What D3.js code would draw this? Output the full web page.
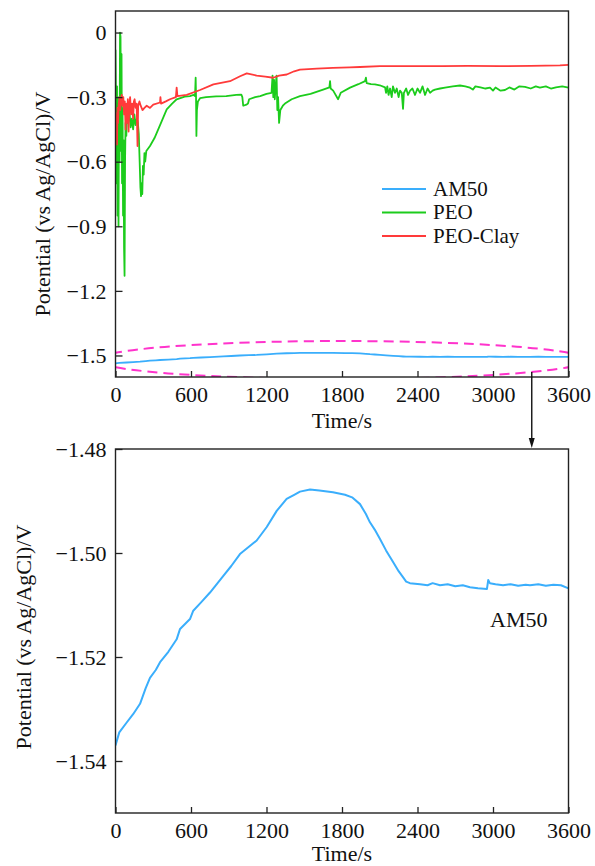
<!DOCTYPE html>
<html>
<head>
<meta charset="utf-8">
<script src="https://cdn.jsdelivr.net/npm/d3@7/dist/d3.min.js"></script>
<style>
  html, body { margin: 0; padding: 0; background: #fff; }
  svg { display: block; }
  text { font-family: "Liberation Serif", "Times New Roman", serif; fill: #111; }
</style>
</head>
<body>
<svg id="chart" width="595" height="866"></svg>
<script>
// ---------------- DATA ----------------
const seriesNames = ["AM50", "PEO", "PEO-Clay"];
const seriesColors = ["#3aaefc", "#1ccc1c", "#ff3a3a"];

const xTicks = [0, 600, 1200, 1800, 2400, 3000, 3600];
const yTicksTop = [0, -0.3, -0.6, -0.9, -1.2, -1.5];
const yTicksBottom = [-1.48, -1.50, -1.52, -1.54];

// AM50 [time/s, potential/V]
const am50Data = [[0,-1.537],[30,-1.5345],[89,-1.5326],[140,-1.531],[195,-1.529],[240,-1.526],[274,-1.524],[320,-1.5225],[354,-1.521],[420,-1.519],[486,-1.5166],[513,-1.5146],[592,-1.5127],[618,-1.5111],[680,-1.5095],[751,-1.5076],[857,-1.5044],[920,-1.5025],[989,-1.5002],[1060,-1.4988],[1122,-1.4976],[1202,-1.495],[1281,-1.4919],[1360,-1.4896],[1420,-1.4888],[1466,-1.4882],[1546,-1.4878],[1620,-1.4880],[1728,-1.4883],[1824,-1.4888],[1880,-1.4893],[1943,-1.4906],[1990,-1.4925],[2022,-1.4941],[2060,-1.4955],[2102,-1.4973],[2150,-1.4995],[2207,-1.5018],[2250,-1.5035],[2286,-1.5047],[2310,-1.5055],[2340,-1.5058],[2420,-1.506],[2480,-1.5062],[2520,-1.5058],[2579,-1.5062],[2640,-1.5060],[2700,-1.5064],[2760,-1.5062],[2817,-1.5066],[2880,-1.5068],[2952,-1.5069],[2962,-1.5052],[2975,-1.5058],[3020,-1.5060],[3080,-1.5062],[3140,-1.5060],[3200,-1.5063],[3260,-1.5061],[3294,-1.5062],[3360,-1.5060],[3420,-1.5063],[3480,-1.5061],[3540,-1.5062],[3600,-1.5068]];

// PEO [time/s, potential/V]
const peoData = [[0,-0.08],[4,-0.35],[8,-0.7],[12,-0.25],[16,-0.85],[20,-0.45],[24,-0.9],[28,-0.3],[32,-0.6],[36,0.0],[40,-0.02],[44,-0.55],[48,-0.1],[52,-0.7],[56,-0.35],[60,-0.85],[64,-0.5],[68,-1.0],[72,-1.13],[76,-0.6],[80,-0.42],[86,-0.48],[92,-0.38],[100,-0.42],[110,-0.36],[120,-0.44],[130,-0.40],[140,-0.45],[150,-0.38],[160,-0.43],[170,-0.40],[178,-0.42],[185,-0.47],[192,-0.60],[198,-0.72],[203,-0.76],[208,-0.70],[213,-0.75],[218,-0.62],[224,-0.66],[230,-0.56],[236,-0.60],[245,-0.55],[274,-0.527],[310,-0.49],[354,-0.43],[407,-0.357],[450,-0.33],[486,-0.31],[550,-0.298],[592,-0.295],[620,-0.29],[632,-0.295],[637,-0.21],[640,-0.30],[643,-0.48],[647,-0.36],[655,-0.32],[672,-0.305],[720,-0.30],[800,-0.297],[880,-0.295],[960,-0.29],[1000,-0.288],[1008,-0.30],[1015,-0.34],[1040,-0.335],[1053,-0.33],[1062,-0.31],[1110,-0.30],[1150,-0.295],[1200,-0.285],[1240,-0.28],[1248,-0.20],[1254,-0.30],[1260,-0.22],[1266,-0.31],[1272,-0.25],[1280,-0.20],[1286,-0.36],[1292,-0.30],[1300,-0.42],[1310,-0.36],[1330,-0.34],[1347,-0.33],[1400,-0.31],[1466,-0.295],[1550,-0.285],[1650,-0.265],[1700,-0.255],[1705,-0.226],[1710,-0.26],[1730,-0.27],[1769,-0.31],[1790,-0.28],[1864,-0.256],[1930,-0.24],[1983,-0.226],[1990,-0.21],[1996,-0.235],[2030,-0.24],[2062,-0.241],[2100,-0.245],[2142,-0.255],[2150,-0.28],[2160,-0.25],[2170,-0.29],[2182,-0.26],[2195,-0.30],[2205,-0.25],[2221,-0.28],[2235,-0.26],[2250,-0.30],[2261,-0.27],[2275,-0.28],[2285,-0.355],[2292,-0.28],[2310,-0.26],[2325,-0.29],[2341,-0.27],[2360,-0.26],[2380,-0.29],[2400,-0.26],[2420,-0.28],[2440,-0.25],[2460,-0.29],[2480,-0.26],[2500,-0.28],[2520,-0.27],[2539,-0.265],[2580,-0.26],[2619,-0.256],[2680,-0.25],[2738,-0.246],[2780,-0.25],[2817,-0.256],[2840,-0.265],[2860,-0.25],[2900,-0.255],[2940,-0.26],[2976,-0.256],[3000,-0.27],[3020,-0.255],[3060,-0.27],[3095,-0.267],[3130,-0.255],[3170,-0.265],[3210,-0.25],[3254,-0.252],[3300,-0.26],[3340,-0.25],[3373,-0.256],[3420,-0.25],[3460,-0.26],[3500,-0.255],[3550,-0.25],[3600,-0.256]];

// PEO-Clay [time/s, potential/V]
const peoClayData = [[0,-0.37],[4,-0.46],[8,-0.40],[12,-0.52],[16,-0.35],[20,-0.42],[26,-0.33],[32,-0.30],[38,-0.36],[44,-0.31],[50,-0.29],[56,-0.34],[62,-0.30],[68,-0.38],[74,-0.32],[80,-0.45],[86,-0.33],[92,-0.42],[98,-0.31],[104,-0.46],[110,-0.34],[116,-0.30],[124,-0.38],[132,-0.33],[140,-0.40],[146,-0.32],[152,-0.31],[160,-0.35],[168,-0.33],[175,-0.527],[180,-0.34],[190,-0.32],[200,-0.34],[215,-0.36],[230,-0.35],[248,-0.34],[274,-0.35],[300,-0.335],[354,-0.325],[357,-0.30],[362,-0.33],[400,-0.32],[433,-0.31],[480,-0.30],[486,-0.256],[492,-0.295],[566,-0.29],[672,-0.267],[778,-0.241],[910,-0.226],[990,-0.203],[1043,-0.19],[1122,-0.2],[1190,-0.205],[1254,-0.21],[1300,-0.2],[1361,-0.195],[1420,-0.18],[1466,-0.172],[1600,-0.168],[1728,-0.164],[1860,-0.162],[1943,-0.16],[2102,-0.156],[2261,-0.156],[2420,-0.156],[2600,-0.156],[2800,-0.155],[3055,-0.156],[3300,-0.155],[3532,-0.153],[3600,-0.15]];

const topSeries = [am50Data, peoData, peoClayData];

// ---------------- LAYOUT ----------------
const svg = d3.select("#chart");
const FONT = 22;
const left = 115.5, right = 568.5;
const topPanel = { y0: 11, y1: 377, domain: [-1.6, 0.1], titleGap: 51 };
const botPanel = { y0: 449, y1: 813, domain: [-1.55, -1.48], titleGap: 48 };

const x = d3.scaleLinear().domain([0, 3600]).range([left, right]);
const yTop = d3.scaleLinear().domain(topPanel.domain).range([topPanel.y1, topPanel.y0]);
const yBot = d3.scaleLinear().domain(botPanel.domain).range([botPanel.y1, botPanel.y0]);

const defs = svg.append("defs");
defs.append("clipPath").attr("id", "clipTop").append("rect")
  .attr("x", left).attr("y", topPanel.y0).attr("width", right - left).attr("height", topPanel.y1 - topPanel.y0);
defs.append("clipPath").attr("id", "clipBot").append("rect")
  .attr("x", left).attr("y", botPanel.y0).attr("width", right - left).attr("height", botPanel.y1 - botPanel.y0);

function drawAxes(y, panel, yTicks, yFmt, titleX, titleY) {
  const gx = svg.append("g").attr("transform", `translate(0,${panel.y1})`)
    .call(d3.axisBottom(x).tickValues(xTicks).tickSizeInner(-6).tickSizeOuter(0).tickPadding(9).tickFormat(d3.format("d")));
  const gy = svg.append("g").attr("transform", `translate(${left},0)`)
    .call(d3.axisLeft(y).tickValues(yTicks).tickSizeInner(-7).tickSizeOuter(0).tickPadding(9).tickFormat(yFmt));
  [gx, gy].forEach(g => {
    g.select(".domain").remove();
    g.selectAll(".tick line").attr("stroke", "#222").attr("stroke-width", 1.3);
    g.selectAll(".tick text").attr("font-family", '"Liberation Serif", serif').attr("font-size", FONT).attr("fill", "#111");
  });
  gy.selectAll(".tick text").attr("dy", "0.33em");
  svg.append("rect").attr("x", left).attr("y", panel.y0).attr("width", right - left).attr("height", panel.y1 - panel.y0)
    .attr("fill", "none").attr("stroke", "#222").attr("stroke-width", 1.4);
  svg.append("text").attr("x", x(1800)).attr("y", panel.y1 + panel.titleGap).attr("text-anchor", "middle")
    .attr("font-size", FONT).text("Time/s");
  svg.append("text").attr("transform", `translate(${titleX},${titleY}) rotate(-90)`).attr("text-anchor", "middle")
    .attr("font-size", FONT).text("Potential (vs Ag/AgCl)/V");
}

// ---------------- TOP PANEL ----------------
const lineTop = d3.line().x(d => x(d[0])).y(d => yTop(d[1]));
const gTop = svg.append("g").attr("clip-path", "url(#clipTop)");
topSeries.forEach((s, i) => {
  gTop.append("path").datum(s).attr("d", lineTop).attr("fill", "none")
    .attr("stroke", seriesColors[i]).attr("stroke-width", 1.8).attr("stroke-linejoin", "round");
});

// dashed ellipse highlighting AM50 (in data units)
const ell = { t: 1800, v: -1.521, rt: 1947, rv: 0.088 };
const ecx = x(ell.t), ecy = yTop(ell.v);
const erx = x(ell.t + ell.rt) - ecx, ery = yTop(ell.v - ell.rv) - ecy;
gTop.append("ellipse").attr("cx", ecx).attr("cy", ecy).attr("rx", erx).attr("ry", ery)
  .attr("fill", "none").attr("stroke", "#ff33cc").attr("stroke-width", 2).attr("stroke-dasharray", "10,6");

drawAxes(yTop, topPanel, yTicksTop, d => d === 0 ? "0" : d3.format(".1f")(d), 50, 204);

// legend
const legendX = 382, legendY = 189, legendStep = 23.5, LEG_FONT = 21;
seriesNames.forEach((n, i) => {
  const yy = legendY + i * legendStep;
  svg.append("line").attr("x1", legendX).attr("x2", legendX + 44).attr("y1", yy).attr("y2", yy)
    .attr("stroke", seriesColors[i]).attr("stroke-width", 1.8);
  svg.append("text").attr("x", legendX + 51).attr("y", yy).attr("dy", "0.33em")
    .attr("font-size", LEG_FONT).text(n);
});

// arrow from ellipse to lower panel
const arrowT = 3308;
const ax = x(arrowT);
const dxr = (ax - ecx) / erx;
const ay0 = ecy + ery * Math.sqrt(Math.max(0, 1 - dxr * dxr));
const ay1 = botPanel.y0 - 1;
svg.append("line").attr("x1", ax).attr("x2", ax).attr("y1", ay0).attr("y2", ay1 - 8)
  .attr("stroke", "#111").attr("stroke-width", 1.4);
svg.append("path").attr("d", `M${ax - 3},${ay1 - 10} L${ax + 3},${ay1 - 10} L${ax},${ay1} Z`).attr("fill", "#111");

// ---------------- BOTTOM PANEL ----------------
const lineBot = d3.line().x(d => x(d[0])).y(d => yBot(d[1]));
svg.append("g").attr("clip-path", "url(#clipBot)").append("path").datum(am50Data)
  .attr("d", lineBot).attr("fill", "none").attr("stroke", seriesColors[0]).attr("stroke-width", 2)
  .attr("stroke-linejoin", "round");

drawAxes(yBot, botPanel, yTicksBottom, d3.format(".2f"), 31, 637);

svg.append("text").attr("x", 490).attr("y", 626.5).attr("font-size", FONT).text(seriesNames[0]);
</script>
</body>
</html>
